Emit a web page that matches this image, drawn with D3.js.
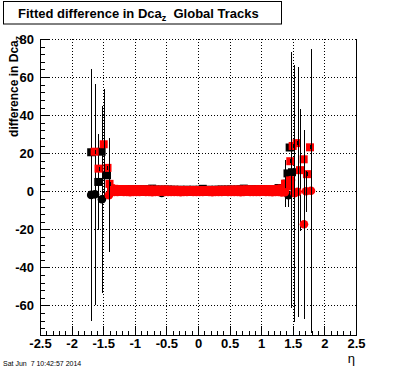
<!DOCTYPE html>
<html>
<head>
<meta charset="utf-8">
<script src="https://cdn.jsdelivr.net/npm/d3@7"></script>
<style>
	body { margin: 0; background: #fff; }
	text { font-family: "Liberation Sans", Arial, Helvetica, sans-serif; }
</style>
</head>
<body>
<svg id="chart" width="396" height="372"></svg>
<script>
// eta bins in the central band
var bandEta = [-1.375,-1.325,-1.275,-1.225,-1.175,-1.125,-1.075,-1.025,-0.975,-0.925,
	-0.875,-0.825,-0.775,-0.725,-0.675,-0.625,-0.575,-0.525,-0.475,-0.425,
	-0.375,-0.325,-0.275,-0.225,-0.175,-0.125,-0.075,-0.025,
	0.025,0.075,0.125,0.175,0.225,0.275,0.325,0.375,0.425,0.475,
	0.525,0.575,0.625,0.675,0.725,0.775,0.825,0.875,0.925,0.975,
	1.025,1.075,1.125,1.175,1.225,1.275,1.325,1.375]
var bandRedSq = [1.6,1.3,1.2,1.1,1.2,1.1,1.0,1.0,1.1,1.0,
	0.9,1.0,0.9,0.8,0.9,0.8,0.8,0.9,0.8,0.7,
	0.8,0.7,0.7,0.6,0.7,0.6,0.7,0.6,
	0.6,0.7,0.6,0.7,0.6,0.7,0.7,0.8,0.7,0.8,
	0.8,0.9,0.8,0.9,0.9,1.0,0.9,1.0,1.0,1.1,
	1.0,1.1,1.2,1.1,1.2,1.3,1.5,1.8]
var bandRedCir = [-0.5,-0.3,-0.4,-0.2,-0.4,-0.3,-0.5,-0.3,-0.4,-0.3,
	-0.2,-0.4,-0.3,-0.5,-0.3,-0.4,-0.2,-0.3,-0.4,-0.3,
	-0.4,-0.3,-0.5,-0.3,-0.4,-0.2,-0.3,-0.4,
	-0.3,-0.4,-0.2,-0.3,-0.5,-0.3,-0.4,-0.3,-0.2,-0.4,
	-0.3,-0.4,-0.3,-0.5,-0.3,-0.2,-0.4,-0.3,-0.4,-0.3,
	-0.2,-0.4,-0.3,-0.5,-0.3,-0.4,-0.6,-0.5]
var bandBlackSq = [1.2,1.0,1.1,0.9,1.0,1.1,0.9,1.0,1.0,0.9,
	1.0,0.9,1.0,1.4,0.9,0.8,0.9,0.8,0.9,0.8,
	0.8,0.7,0.8,0.7,0.8,0.7,0.8,0.7,
	0.8,1.3,0.7,0.8,0.7,0.8,0.8,0.9,0.8,0.9,
	0.9,0.8,0.9,1.0,1.4,1.0,0.9,1.0,1.1,1.0,
	1.1,1.0,1.2,1.1,1.2,1.7,1.3,1.6]
var bandBlackCir = [-0.1,-0.2,-0.1,0.0,-0.1,-0.2,-0.1,-0.1,0.0,-0.1,
	-0.2,-0.1,-0.1,0.0,-0.1,-0.2,-0.9,-0.1,0.0,-0.1,
	-0.2,-0.1,-0.1,0.0,-0.1,-0.2,-0.1,-0.1,
	0.0,-0.1,-0.2,-0.1,-0.1,0.0,-0.1,-0.2,-0.1,-0.1,
	0.0,-0.1,-0.2,-0.1,-0.1,0.0,-0.1,-0.2,-0.1,-0.1,
	0.0,-0.1,-0.2,-0.1,-0.1,0.0,-0.1,-0.2]

// forward region points (eta, value, error)
var blackSqEta = [-1.69, -1.578, -1.525, -1.44, 1.40, 1.416, 1.45, 1.487]
var blackSqVal = [20.5, 4.9, 20.8, 8.4, 4.0, 9.4, 23.0, 10.0]
var blackSqErr = [1.5, 25.2, 1.5, 1.5, 1.0, 1.5, 1.5, 1.5]

var blackCirEta = [-1.69, -1.63, -1.52, 1.43]
var blackCirVal = [-1.9, -1.6, -4.2, -2.0]
var blackCirErr = [66.3, 58.2, 49.0, 6.0]

var redSqEta = [-1.635, -1.492, -1.574, -1.432, -1.40, 1.377, 1.45, 1.47, 1.46, 1.498, 1.561, 1.614, 1.672, 1.724, 1.772]
var redSqVal = [20.8, 24.7, 11.9, 12.3, 3.9, 4.0, 5.7, 2.6, 15.8, 23.8, 25.3, 11.1, 16.8, 9.0, 23.1]
var redSqErr = [1.0, 29.2, 1.0, 1.0, 1.0, 12.2, 1.0, 1.0, 1.0, 1.0, 1.0, 32.0, 1.0, 1.0, 1.0]

var redCirEta = [-1.41, 1.472, 1.524, 1.575, 1.677, 1.709, 1.788]
var redCirVal = [-2.1, 5.9, -1.0, -0.3, -17.3, 0.0, 0.3]
var redCirErr = [30.0, 67.2, 67.6, 65.6, 49.6, 10.8, 74.5]

var xTicks = [-2.5, -2, -1.5, -1, -0.5, 0, 0.5, 1, 1.5, 2, 2.5]
var yTicks = [-60, -40, -20, 0, 20, 40, 60, 80]

var svg = d3.select("#chart")
var frameL = 40, frameR = 356, frameT = 39, frameB = 335

var x = d3.scaleLinear().domain([-2.5, 2.5]).range([frameL, frameR])
var y = d3.scaleLinear().domain([-75.5, 80]).range([frameB, frameT])

svg.append("rect").attr("width", 396).attr("height", 372).attr("fill", "#fff")

svg.append("clipPath").attr("id", "frame")
	.append("rect").attr("x", frameL).attr("y", frameT).attr("width", frameR - frameL).attr("height", frameB - frameT)

// grid
var grid = svg.append("g").attr("stroke", "#000").attr("stroke-dasharray", "1,2").attr("shape-rendering", "crispEdges")
grid.selectAll(".gx").data(xTicks.slice(1, -1)).enter().append("line")
	.attr("x1", d => Math.round(x(d)) + 0.5).attr("x2", d => Math.round(x(d)) + 0.5)
	.attr("y1", frameT).attr("y2", frameB)
grid.selectAll(".gy").data(yTicks).enter().append("line")
	.attr("y1", d => Math.round(y(d)) + 0.5).attr("y2", d => Math.round(y(d)) + 0.5)
	.attr("x1", frameL).attr("x2", frameR)

var plot = svg.append("g").attr("clip-path", "url(#frame)")

function drawSeries(etas, vals, errs, color, shape){
	var pts = etas.map((e, i) => ({eta: e, v: vals[i], err: errs ? errs[i] : 0}))
	var g = plot.append("g")
	if(shape === "square"){
		g.selectAll("rect").data(pts).enter().append("rect")
			.attr("x", d => x(d.eta) - 4).attr("y", d => y(d.v) - 4)
			.attr("width", 8).attr("height", 8)
			.attr("fill", color)
	} else {
		g.selectAll("circle").data(pts).enter().append("circle")
			.attr("cx", d => x(d.eta)).attr("cy", d => y(d.v)).attr("r", 4.3)
			.attr("fill", color)
	}
	g.selectAll("line").data(pts.filter(d => d.err > 0)).enter().append("line")
		.attr("x1", d => Math.round(x(d.eta)) + 0.5).attr("x2", d => Math.round(x(d.eta)) + 0.5)
		.attr("y1", d => y(d.v - d.err)).attr("y2", d => y(d.v + d.err))
		.attr("stroke", "#000").attr("stroke-width", 1).attr("shape-rendering", "crispEdges")
}

drawSeries(bandEta, bandBlackSq, null, "#000", "square")
drawSeries(blackSqEta, blackSqVal, blackSqErr, "#000", "square")
drawSeries(bandEta, bandBlackCir, null, "#000", "circle")
drawSeries(blackCirEta, blackCirVal, blackCirErr, "#000", "circle")
drawSeries(bandEta, bandRedSq, null, "#ff0000", "square")
drawSeries(redSqEta, redSqVal, redSqErr, "#ff0000", "square")
drawSeries(bandEta, bandRedCir, null, "#ff0000", "circle")
drawSeries(redCirEta, redCirVal, redCirErr, "#ff0000", "circle")

// axes
var fmt = d => String(d)
var xMinor = d3.range(-25, 26).map(d => d / 10)
var yMinor = d3.range(-72, 81, 4)

svg.append("g").attr("transform", "translate(0," + frameB + ")")
	.call(d3.axisBottom(x).tickValues(xMinor).tickSize(-4.5).tickFormat(""))
	.call(g => g.select(".domain").remove())
var xAxis = svg.append("g").attr("transform", "translate(0," + frameB + ")")
	.call(d3.axisBottom(x).tickValues(xTicks).tickSize(-9).tickSizeOuter(0).tickPadding(4).tickFormat(fmt))
xAxis.selectAll("text").attr("font-size", 13).attr("font-weight", "bold").attr("fill", "#000")
	.attr("font-family", '"Liberation Sans", Arial, sans-serif')

svg.append("g").attr("transform", "translate(" + frameL + ",0)")
	.call(d3.axisLeft(y).tickValues(yMinor).tickSize(-4.7).tickFormat(""))
	.call(g => g.select(".domain").remove())
var yAxis = svg.append("g").attr("transform", "translate(" + frameL + ",0)")
	.call(d3.axisLeft(y).tickValues(yTicks).tickSize(-9.5).tickSizeOuter(0).tickPadding(6).tickFormat(fmt))
yAxis.selectAll("text").attr("font-size", 13).attr("font-weight", "bold").attr("fill", "#000")
	.attr("font-family", '"Liberation Sans", Arial, sans-serif')

svg.selectAll(".tick line").attr("shape-rendering", "crispEdges")
svg.selectAll(".domain").attr("shape-rendering", "crispEdges")

// right edge of frame
svg.append("line").attr("x1", frameR + 0.5).attr("x2", frameR + 0.5).attr("y1", frameT).attr("y2", frameB)
	.attr("stroke", "#000").attr("shape-rendering", "crispEdges")

// title box
svg.append("rect").attr("x", 3.5).attr("y", 1.5).attr("width", 278).attr("height", 22.5)
	.attr("fill", "#fff").attr("stroke", "#000")
var title = svg.append("text").attr("x", 18).attr("y", 17.5)
	.attr("font-size", 13).attr("font-weight", "bold").attr("xml:space", "preserve")
title.append("tspan").text("Fitted difference in Dca")
title.append("tspan").attr("font-size", 9).attr("dy", 3).text("z")
title.append("tspan").attr("dy", -3).text("  Global Tracks")

// y axis title
var ylab = svg.append("text").attr("transform", "translate(18,36) rotate(-90)")
	.attr("text-anchor", "end").attr("font-size", 12).attr("font-weight", "bold")
ylab.append("tspan").text("difference in Dca")
ylab.append("tspan").attr("font-size", 8.5).attr("dy", 3).text("z")

// x axis title
svg.append("text").attr("x", 355).attr("y", 363).attr("text-anchor", "end")
	.attr("font-size", 13).text("η")

// date stamp
svg.append("text").attr("x", 3).attr("y", 366).attr("font-size", 7).attr("xml:space", "preserve")
	.text("Sat Jun  7 10:42:57 2014")
</script>
</body>
</html>
